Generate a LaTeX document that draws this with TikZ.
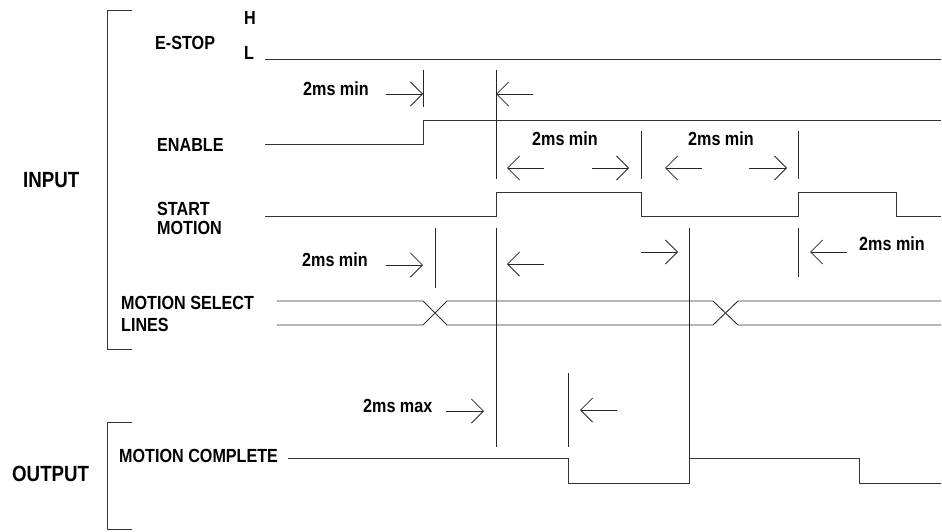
\documentclass[tikz,border=0pt]{standalone}
\usepackage{fontspec}
\newfontfamily\lblfont[FakeStretch=0.85]{Liberation Sans}
\usetikzlibrary{arrows.meta}
\begin{document}
\begin{tikzpicture}[x=1pt,y=-1pt,
  sig/.style={line width=0.95pt, draw=black!80, line join=miter},
  tickline/.style={line width=0.9pt, draw=black!85},
  dimarrow/.style={line width=0.8pt, draw=black!85, -{Straight Barb[length=12pt,width=24pt]}},
  brack/.style={line width=0.9pt, draw=black!80},
  lbl/.style={anchor=west, inner sep=0pt, font=\lblfont\bfseries\fontsize{19}{22}\selectfont},
  biglbl/.style={anchor=west, inner sep=0pt, font=\lblfont\bfseries\fontsize{22}{24}\selectfont}]
\useasboundingbox (0,0) rectangle (942,531);

% brackets
\draw[brack] (132,10) -- (107,10) -- (107,349) -- (132,349);
\draw[brack] (132,422) -- (107,422) -- (107,529.5) -- (132,529.5);

% labels
\node[biglbl] (inp) at (23,180) {INPUT};
\node[biglbl] (outp) at (12,474) {OUTPUT};
\node[lbl] (estop) at (155,43) {E-STOP};
\node[lbl] (hi) at (244,18) {H};
\node[lbl] (lo) at (244,53) {L};
\node[lbl] (enable) at (157,145) {ENABLE};
\node[lbl] (start) at (157,208.5) {START};
\node[lbl] (startb) at (157,228) {MOTION};
\node[lbl] (msel) at (121,303) {MOTION SELECT};
\node[lbl] (mselb) at (121,325) {LINES};
\node[lbl] (mcomp) at (119,456) {MOTION COMPLETE};
\node[lbl] (t1) at (303,89) {2ms min};
\node[lbl] (t2) at (532,138.5) {2ms min};
\node[lbl] (t3) at (688,138.5) {2ms min};
\node[lbl] (t4) at (302,259.5) {2ms min};
\node[lbl] (t5) at (859,244) {2ms min};
\node[lbl] (t6) at (363,406) {2ms max};

% waveforms
\draw[sig] (265,59) -- (941,59);
\draw[sig] (265,144) -- (423,144) -- (423,120) -- (941,120);
\draw[sig] (265,216) -- (496,216) -- (496,192) -- (641,192) -- (641,216)
  -- (798,216) -- (798,192) -- (896,192) -- (896,216) -- (941,216);
\draw[sig] (277,301) -- (423,301) -- (447,325) -- (713,325) -- (738,301) -- (941,301);
\draw[sig] (277,325) -- (423,325) -- (447,301) -- (713,301) -- (738,325) -- (941,325);
\draw[sig] (288,458) -- (568,458) -- (568,483) -- (689,483) -- (689,458)
  -- (859,458) -- (859,483) -- (941,483);

% timing markers
\coordinate (v1a) at (423,70);  \coordinate (v1b) at (423,107);
\coordinate (v2a) at (496,70);  \coordinate (v2b) at (496,179);
\coordinate (v3a) at (641,131); \coordinate (v3b) at (641,179);
\coordinate (v4a) at (798,131); \coordinate (v4b) at (798,179);
\coordinate (v5a) at (435,228); \coordinate (v5b) at (435,288);
\coordinate (v6a) at (496,228); \coordinate (v6b) at (496,447);
\coordinate (v7a) at (689,228); \coordinate (v7b) at (689,458);
\coordinate (v8a) at (798,228); \coordinate (v8b) at (798,277);
\coordinate (v9a) at (568,373); \coordinate (v9b) at (568,447);
\foreach \v in {1,...,9} {\draw[tickline] (v\v a) -- (v\v b);}

% dimension arrows
\coordinate (a1s) at (386,94);  \coordinate (a1e) at (423,94);
\coordinate (a2s) at (533,94);  \coordinate (a2e) at (496,94);
\coordinate (a3s) at (544,168); \coordinate (a3e) at (507,168);
\coordinate (a4s) at (592,168); \coordinate (a4e) at (629,168);
\coordinate (a5s) at (702,168); \coordinate (a5e) at (665,168);
\coordinate (a6s) at (749,168); \coordinate (a6e) at (787,168);
\coordinate (a7s) at (386,265); \coordinate (a7e) at (423,265);
\coordinate (a8s) at (544,264); \coordinate (a8e) at (507,264);
\coordinate (a9s) at (641,252); \coordinate (a9e) at (678,252);
\coordinate (a10s) at (847,252); \coordinate (a10e) at (810,252);
\coordinate (a11s) at (446,411); \coordinate (a11e) at (484,411);
\coordinate (a12s) at (617,410); \coordinate (a12e) at (580,410);
\foreach \a in {1,...,12} {\draw[dimarrow] (a\a s) -- (a\a e);}
\end{tikzpicture}
\end{document}
